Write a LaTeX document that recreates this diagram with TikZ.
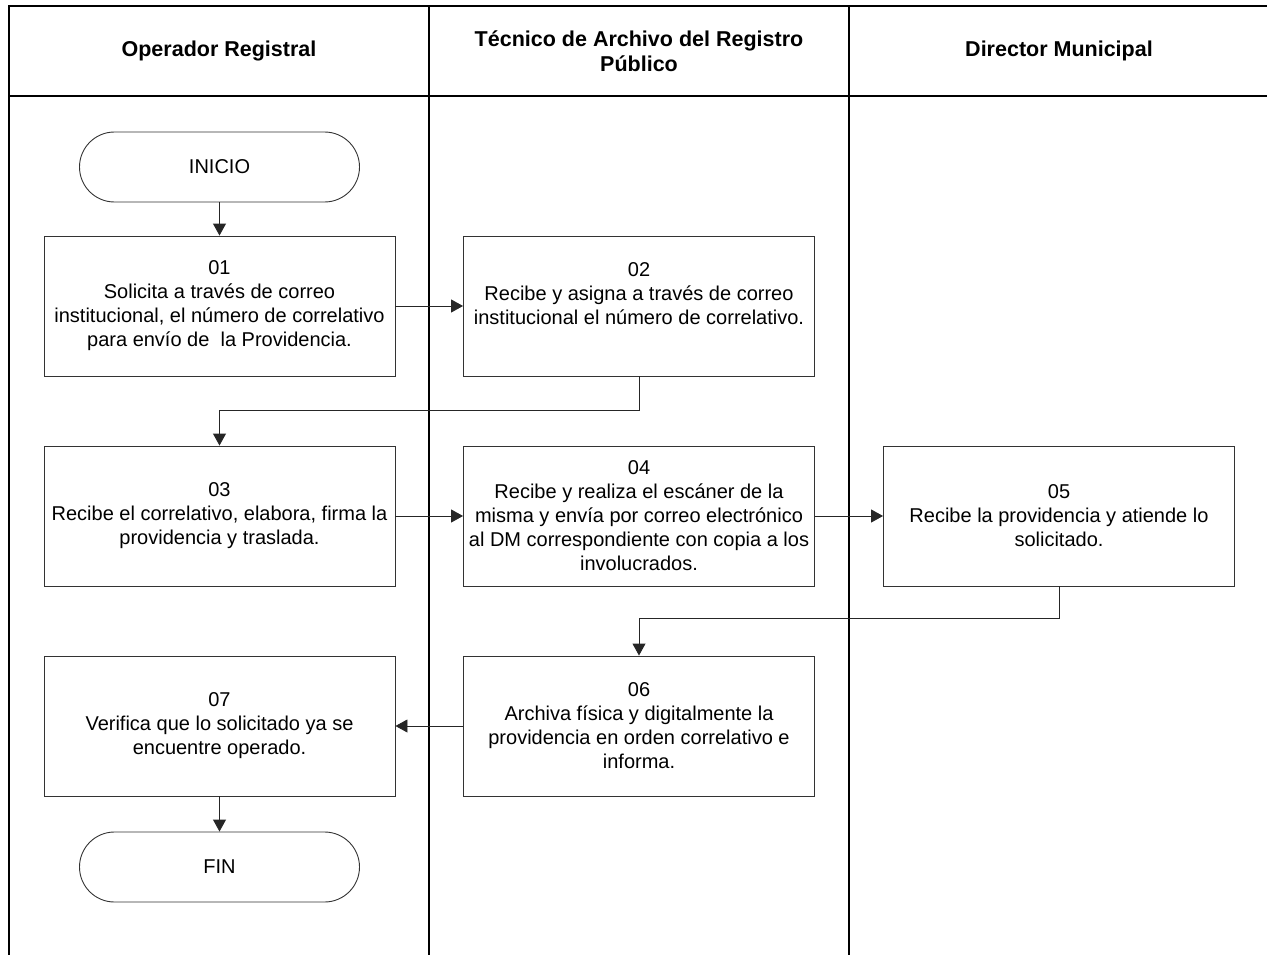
\documentclass[tikz,border=0pt]{standalone}
\usepackage{fontspec}
\setmainfont{Liberation Sans}
\usetikzlibrary{arrows.meta}
\begin{document}
\begin{tikzpicture}[x=1pt,y=-1pt,
  frameline/.style={draw=black,line width=1.3pt},
  hdr/.style={font=\fontsize{21.5}{25}\selectfont\bfseries,align=center,inner sep=0pt},
  stepbox/.style={draw=black!80,line width=0.9pt,minimum width=351pt,minimum height=140pt,align=center,inner sep=2pt,font=\fontsize{20}{24}\selectfont},
  term/.style={draw=black!80,line width=0.9pt,minimum width=280pt,minimum height=70pt,rounded corners=35pt,font=\fontsize{20}{24}\selectfont},
  arr/.style={draw=black!85,line width=0.9pt,-{Triangle[length=12pt,width=13pt]}}]
\useasboundingbox (0,0) rectangle (1267,955);
% frame
\draw[frameline] (9,955) -- (9,6) -- (1267,6);
\draw[frameline] (9,96) -- (1267,96);
\draw[frameline] (429,6) -- (429,955);
\draw[frameline] (849,6) -- (849,955);
% headers
\node[hdr] (h1) at (219,51) {Operador Registral};
\node[hdr] (h2) at (639,51) {Técnico de Archivo del Registro\\Público};
\node[hdr] (h3) at (1059,51) {Director Municipal};
% nodes
\node[term] (inicio) at (219.5,167) {INICIO};
\node[stepbox] (b01) at (219.5,306) {01\\Solicita a través de correo\\institucional, el número de correlativo\\para envío de \ la Providencia.};
\node[stepbox] (b02) at (639,306) {02\\Recibe y asigna a través de correo\\institucional el número de correlativo.\\\mbox{}};
\node[stepbox] (b03) at (219.5,516) {03\\Recibe el correlativo, elabora, firma la\\providencia y traslada.};
\node[stepbox] (b04) at (639,516) {04\\Recibe y realiza el escáner de la\\misma y envía por correo electrónico\\al DM correspondiente con copia a los\\involucrados.};
\node[stepbox] (b05) at (1059,516) {05\\Recibe la providencia y atiende lo\\solicitado.};
\node[stepbox] (b06) at (639,726) {06\\Archiva física y digitalmente la\\providencia en orden correlativo e\\informa.};
\node[stepbox] (b07) at (219.5,726) {07\\Verifica que lo solicitado ya se\\encuentre operado.};
\node[term] (fin) at (219.5,867) {FIN};
% connectors
\coordinate (j1) at (0,410);
\coordinate (j2) at (0,618);
\draw[arr] (inicio) -- (b01);
\draw[arr] (b01) -- (b02);
\draw[arr] (b02.south) -- (b02.south |- j1) -| (b03.north);
\draw[arr] (b03) -- (b04);
\draw[arr] (b04) -- (b05);
\draw[arr] (b05.south) -- (b05.south |- j2) -| (b06.north);
\draw[arr] (b06) -- (b07);
\draw[arr] (b07) -- (fin);
\end{tikzpicture}
\end{document}
